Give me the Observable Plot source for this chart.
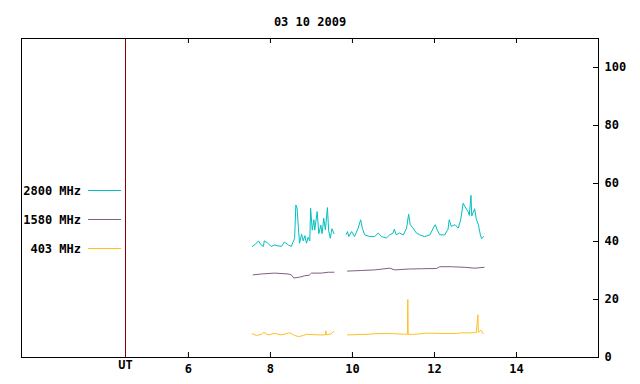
<!DOCTYPE html>
<html><head><meta charset="utf-8">
<script src="https://cdn.jsdelivr.net/npm/d3@7"></script>
<script src="https://cdn.jsdelivr.net/npm/@observablehq/plot@0.6"></script>
<style>body{margin:0;background:#fff} svg{display:block}</style>
</head><body><div id="chart"></div>
<script>
const title = "03 10 2009";
const seriesNames = ["2800 MHz", "1580 MHz", "403 MHz"];
const seriesColors = ["#00c0c0", "#806080", "#ffc020"];
const xTicks = [6, 8, 10, 12, 14];
const yTicks = [0, 20, 40, 60, 80, 100];
const utHour = 4.466;
const utLabel = "UT";

// [hour UT, value]; null value = data gap
const series2800 = [
  [7.56,38.3],[7.63,39.0],[7.71,40.2],[7.76,39.0],[7.83,38.3],[7.85,40.2],[7.93,39.5],[8.02,38.3],[8.10,38.8],[8.18,38.5],
  [8.27,38.3],[8.34,39.8],[8.44,38.8],[8.51,38.3],[8.59,41.1],[8.62,52.6],[8.65,51.5],[8.68,45.2],[8.71,39.4],[8.76,42.5],
  [8.80,40.2],[8.84,42.0],[8.88,39.4],[8.92,41.5],[8.96,40.2],[8.98,51.5],[9.02,43.9],[9.06,47.5],[9.08,43.9],[9.14,50.3],
  [9.18,42.7],[9.23,45.6],[9.26,42.7],[9.30,48.0],[9.34,44.0],[9.39,51.7],[9.42,43.7],[9.46,41.1],[9.50,44.4],[9.55,42.7],
  [9.70,null],
  [9.85,42.5],[9.88,43.4],[9.91,41.7],[9.98,43.4],[10.05,41.7],[10.14,44.6],[10.20,47.5],[10.24,44.6],[10.30,42.3],[10.42,41.7],
  [10.54,41.7],[10.63,42.9],[10.71,41.7],[10.83,41.2],[10.91,42.3],[10.99,42.9],[11.02,44.2],[11.07,42.3],[11.15,42.9],[11.24,42.3],
  [11.32,44.6],[11.37,49.4],[11.41,45.8],[11.48,44.6],[11.56,42.9],[11.64,42.3],[11.76,41.7],[11.89,42.3],[11.97,44.6],[12.02,45.8],
  [12.07,43.9],[12.13,42.3],[12.25,42.3],[12.33,44.2],[12.36,47.5],[12.41,45.2],[12.50,45.8],[12.58,44.6],[12.64,47.5],[12.70,53.2],
  [12.74,52.1],[12.82,50.3],[12.85,49.0],[12.89,55.9],[12.91,48.8],[12.98,51.3],[13.02,47.7],[13.07,45.8],[13.12,42.3],[13.15,41.0],
  [13.20,41.7]
];
const series1580 = [
  [7.58,28.5],[7.78,28.8],[8.10,29.1],[8.43,28.8],[8.51,28.5],[8.57,27.4],[8.71,27.7],[8.84,28.2],[8.95,28.4],[9.00,29.1],
  [9.24,29.1],[9.41,29.4],[9.55,29.4],[9.70,null],[9.88,29.8],[10.22,30.0],[10.54,30.2],[10.91,30.8],[11.03,30.2],[11.36,30.5],
  [11.68,30.6],[12.05,30.7],[12.13,31.3],[12.41,31.3],[12.74,31.1],[12.98,30.8],[13.21,31.1]
];
const series403 = [
  [7.56,8.2],[7.66,7.6],[7.78,8.0],[7.84,8.7],[7.94,7.8],[8.10,8.3],[8.27,7.8],[8.47,8.5],[8.59,7.6],[8.69,7.2],
  [8.80,7.6],[8.88,8.0],[9.16,7.8],[9.34,7.8],[9.35,9.2],[9.37,7.8],[9.49,8.2],[9.54,9.0],[9.70,null],
  [9.88,7.8],[10.38,8.0],[10.54,8.2],[10.79,8.3],[11.03,8.2],[11.34,8.0],[11.35,20.0],[11.36,8.0],[11.52,8.0],[11.81,8.4],
  [12.17,8.3],[12.54,8.3],[12.66,8.5],[12.90,8.5],[13.02,8.6],[13.06,14.7],[13.07,8.6],[13.13,9.5],[13.18,8.3]
];

const allSeries = [series2800, series1580, series403];
const W = 640, H = 384, mL = 21, mR = 42, mT = 38, mB = 27;
const frameW = W - mL - mR, frameH = H - mT - mB;
const font = "'DejaVu Sans Mono', 'Liberation Mono', monospace";

const legendMark = (index, scales, values, dimensions) => {
  const g = d3.create("svg:g");
  const xr = Math.round(scales.x(utHour));
  seriesNames.forEach((name, i) => {
    const y = dimensions.marginTop + 152 + 29 * i + 0.5;
    g.append("line").attr("x1", xr - 37).attr("x2", xr - 4).attr("y1", y).attr("y2", y)
      .attr("stroke", seriesColors[i]).attr("stroke-width", 1);
    g.append("text").attr("x", xr - 44).attr("y", y).attr("dy", "0.38em")
      .attr("text-anchor", "end").attr("fill", "black").text(name);
  });
  return g.node();
};

const chart = Plot.plot({
  width: W, height: H,
  marginLeft: mL, marginRight: mR, marginTop: mT, marginBottom: mB,
  x: {domain: [1.93, 16], axis: null},
  y: {domain: [0, 110], axis: null},
  style: {fontFamily: font, fontSize: "12px", fontWeight: "bold", background: "white", color: "black"},
  marks: [
    ...allSeries.map((s, i) => Plot.line(s, {x: d => d[0], y: d => d[1], stroke: seriesColors[i], strokeWidth: 1})),
    Plot.ruleX([utHour], {stroke: "#800000", strokeWidth: 1}),
    Plot.ruleX(xTicks, {x: d => d, insetTop: frameH - 5, stroke: "black"}),
    Plot.ruleX(xTicks, {x: d => d, insetBottom: frameH - 5, stroke: "black"}),
    Plot.ruleY(yTicks.filter(v => v > 0), {y: d => d, insetLeft: frameW - 5, stroke: "black"}),
    Plot.frame({stroke: "black"}),
    Plot.text(xTicks, {x: d => d, frameAnchor: "bottom", dy: 15, text: d => String(d), fill: "black"}),
    Plot.text([utLabel], {x: () => utHour, frameAnchor: "bottom", dy: 11, text: d => d, fill: "black"}),
    Plot.text(yTicks, {y: d => d, frameAnchor: "right", dx: 6, textAnchor: "start", text: d => String(d), fill: "black"}),
    Plot.text([title], {frameAnchor: "top", dy: -21, text: d => d, fill: "black"}),
    legendMark
  ]
});
document.getElementById("chart").append(chart);
</script>
</body></html>
